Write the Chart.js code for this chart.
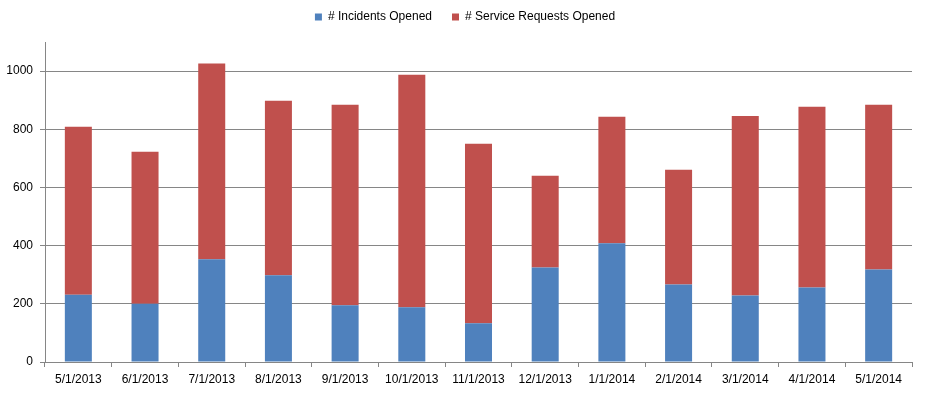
<!DOCTYPE html>
<html>
<head>
<meta charset="utf-8">
<script src="https://cdn.jsdelivr.net/npm/chart.js@4"></script>
<style>
html,body{margin:0;padding:0;background:#fff;}
#wrap{width:925px;height:393px;position:relative;}
</style>
</head>
<body>
<div id="wrap"><canvas id="c" width="925" height="393"></canvas></div>
<script>
const categories = ["5/1/2013","6/1/2013","7/1/2013","8/1/2013","9/1/2013","10/1/2013","11/1/2013","12/1/2013","1/1/2014","2/1/2014","3/1/2014","4/1/2014","5/1/2014"];
const incidentsOpened = [231,200,353,298,195,188,133,325,408,266,229,256,318];
const serviceRequestsOpened = [578,523,673,600,689,799,617,315,435,395,617,621,566];
const seriesNames = ["# Incidents Opened","# Service Requests Opened"];
const yTickStep = 200;
const yMax = 1100;

const gridColor = '#868686';
const font = {family:'"Liberation Sans", Arial, sans-serif', size:12};

const legendShift = {
  id:'legendShift',
  afterLayout(chart){
    const l = chart.legend;
    if(l){ l.top -= 9; l.bottom -= 9; l.left += 9; l.right += 9; }
  }
};

new Chart(document.getElementById('c'), {
  type:'bar',
  data:{
    labels:categories,
    datasets:[
      {label:seriesNames[0], data:incidentsOpened, backgroundColor:'#4F81BD', borderWidth:0, barPercentage:0.405, categoryPercentage:1},
      {label:seriesNames[1], data:serviceRequestsOpened, backgroundColor:'#C0504D', borderWidth:0, barPercentage:0.405, categoryPercentage:1}
    ]
  },
  options:{
    responsive:false,
    animation:false,
    devicePixelRatio:1,
    layout:{padding:{left:0,right:13,top:0,bottom:0}},
    plugins:{
      legend:{
        position:'top',
        labels:{boxWidth:7, boxHeight:7, padding:20, color:'#000', font:font}
      },
      tooltip:{enabled:false}
    },
    scales:{
      x:{
        stacked:true,
        offset:true,
        grid:{display:true, offset:true, drawOnChartArea:false, drawTicks:true, tickLength:5, color:gridColor},
        border:{display:true, color:gridColor, width:1},
        ticks:{color:'#000', font:font, padding:5, maxRotation:0, autoSkip:false},
        afterFit(s){ s.height = 31; }
      },
      y:{
        stacked:true,
        min:0,
        max:yMax,
        grid:{display:true, color:gridColor, drawTicks:true, tickLength:5},
        border:{display:true, color:gridColor, width:1},
        ticks:{stepSize:yTickStep, includeBounds:false, color:'#000', font:font, padding:7,
          callback:(v)=>String(v)},
        afterFit(s){ s.width = 45; }
      }
    }
  },
  plugins:[legendShift]
});
</script>
</body>
</html>
